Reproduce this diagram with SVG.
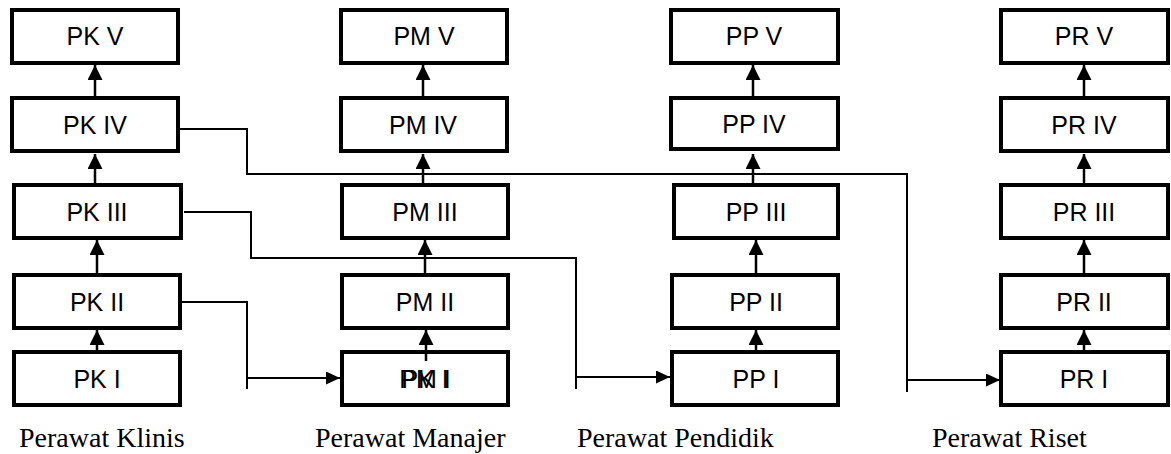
<svg xmlns="http://www.w3.org/2000/svg" width="1171" height="454" viewBox="0 0 1171 454">
<style>
.box{fill:#fff;stroke:#000;stroke-width:4}
.lbl{font-family:"Liberation Sans",Arial,sans-serif;font-size:25px;text-anchor:middle;fill:#000}
.cap{font-family:"Liberation Serif","Times New Roman",serif;font-size:28px;fill:#000}
.up{stroke:#000;stroke-width:2.5;fill:none;marker-end:url(#ah)}
.con{stroke:#000;stroke-width:2;fill:none}
.conA{stroke:#000;stroke-width:2;fill:none;marker-end:url(#ahs)}
</style>
<defs>
<marker id="ah" markerUnits="userSpaceOnUse" markerWidth="16" markerHeight="16" refX="15" refY="7.5" orient="auto">
<path d="M0,0 L15,7.5 L0,15 z" fill="#000"/>
</marker>
<marker id="ahs" markerUnits="userSpaceOnUse" markerWidth="16" markerHeight="16" refX="14" refY="6.5" orient="auto">
<path d="M0,0 L14,6.5 L0,13 z" fill="#000"/>
</marker>
</defs>
<rect width="1171" height="454" fill="#fff"/>

<g id="connectors">
<line class="up" x1="95" y1="96" x2="95" y2="65"/>
<line class="up" x1="95" y1="183" x2="95" y2="154"/>
<line class="up" x1="97" y1="273" x2="97" y2="240"/>
<line class="up" x1="97" y1="350" x2="97" y2="330"/>
<line class="up" x1="423" y1="96" x2="423" y2="65"/>
<line class="up" x1="423" y1="183" x2="423" y2="154"/>
<line class="up" x1="425" y1="273" x2="425" y2="240"/>
<line class="up" x1="753" y1="96" x2="753" y2="65"/>
<line class="up" x1="753" y1="183" x2="753" y2="154"/>
<line class="up" x1="756" y1="273" x2="756" y2="240"/>
<line class="up" x1="756" y1="350" x2="756" y2="330"/>
<line class="up" x1="1084" y1="96" x2="1084" y2="65"/>
<line class="up" x1="1084" y1="183" x2="1084" y2="154"/>
<line class="up" x1="1084" y1="273" x2="1084" y2="240"/>
<line class="up" x1="1084" y1="350" x2="1084" y2="330"/>
<path class="con" d="M180,302 H247 V389"/>
<line class="conA" x1="247" y1="378" x2="340" y2="378"/>
<path class="con" d="M184,212 H251 V258 H576 V389"/>
<line class="conA" x1="576" y1="377" x2="670" y2="377"/>
<path class="con" d="M180,129 H247 V174 H907 V392"/>
<line class="conA" x1="907" y1="380" x2="1000" y2="380"/>
</g>

<g id="pk5"><rect class="box" x="12" y="10" width="166" height="53"/><text class="lbl" x="95" y="45">PK V</text></g>
<g id="pk4"><rect class="box" x="12" y="98" width="166" height="53"/><text class="lbl" x="95" y="134">PK IV</text></g>
<g id="pk3"><rect class="box" x="14" y="185" width="167" height="53"/><text class="lbl" x="97" y="221">PK III</text></g>
<g id="pk2"><rect class="box" x="14" y="275" width="166" height="53"/><text class="lbl" x="97" y="311">PK II</text></g>
<g id="pk1"><rect class="box" x="14" y="352" width="166" height="53"/><text class="lbl" x="97" y="388">PK I</text></g>

<g id="pm5"><rect class="box" x="341" y="10" width="166" height="53"/><text class="lbl" x="424" y="45">PM V</text></g>
<g id="pm4"><rect class="box" x="341" y="98" width="166" height="53"/><text class="lbl" x="423" y="134">PM IV</text></g>
<g id="pm3"><rect class="box" x="342" y="185" width="166" height="53"/><text class="lbl" x="425" y="221">PM III</text></g>
<g id="pm2"><rect class="box" x="342" y="275" width="166" height="53"/><text class="lbl" x="425" y="311">PM II</text></g>
<g id="pm1"><rect class="box" x="342" y="352" width="166" height="53"/><text class="lbl" x="425" y="388">PM I</text><text class="lbl" x="425" y="388">PK I</text></g>
<line class="up" x1="426" y1="361" x2="426" y2="330"/>

<g id="pp5"><rect class="box" x="671" y="10" width="167" height="53"/><text class="lbl" x="754" y="45">PP V</text></g>
<g id="pp4"><rect class="box" x="671" y="98" width="167" height="51"/><text class="lbl" x="754" y="133">PP IV</text></g>
<g id="pp3"><rect class="box" x="674" y="185" width="164" height="53"/><text class="lbl" x="756" y="221">PP III</text></g>
<g id="pp2"><rect class="box" x="672" y="275" width="166" height="53"/><text class="lbl" x="756" y="311">PP II</text></g>
<g id="pp1"><rect class="box" x="672" y="352" width="166" height="53"/><text class="lbl" x="756" y="388">PP I</text></g>

<g id="pr5"><rect class="box" x="1001" y="10" width="167" height="53"/><text class="lbl" x="1084" y="45">PR V</text></g>
<g id="pr4"><rect class="box" x="1001" y="98" width="167" height="53"/><text class="lbl" x="1084" y="134">PR IV</text></g>
<g id="pr3"><rect class="box" x="1001" y="185" width="167" height="53"/><text class="lbl" x="1084" y="221">PR III</text></g>
<g id="pr2"><rect class="box" x="1001" y="275" width="167" height="53"/><text class="lbl" x="1084" y="311">PR II</text></g>
<g id="pr1"><rect class="box" x="1001" y="352" width="167" height="53"/><text class="lbl" x="1084" y="388">PR I</text></g>

<g id="captions">
<text class="cap" x="19" y="447">Perawat Klinis</text>
<text class="cap" x="315" y="447">Perawat Manajer</text>
<text class="cap" x="577" y="447">Perawat Pendidik</text>
<text class="cap" x="932" y="447">Perawat Riset</text>
</g>
</svg>
